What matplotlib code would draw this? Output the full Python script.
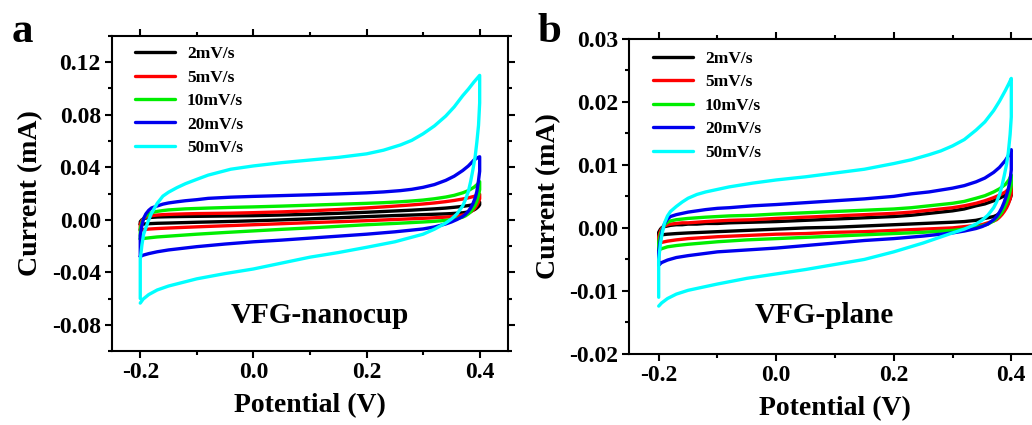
import matplotlib
matplotlib.use("Agg")
import matplotlib.pyplot as plt
from matplotlib.ticker import MultipleLocator

plt.rcParams['font.family'] = ['Liberation Serif', 'DejaVu Serif']
plt.rcParams['font.weight'] = 'bold'

# potential grid (V): forward sweep then reverse sweep
v_fwd = [-0.2, -0.2, -0.197, -0.194, -0.19, -0.185, -0.18, -0.17, -0.16, -0.15, -0.135, -0.12,
         -0.1, -0.08, -0.04, 0.0, 0.05, 0.1, 0.15, 0.2, 0.23, 0.26, 0.28, 0.3, 0.32, 0.34,
         0.355, 0.37, 0.38, 0.39, 0.396, 0.4]
v_rev = [0.4, 0.4, 0.398, 0.395, 0.392, 0.388, 0.384, 0.38, 0.375, 0.37, 0.36, 0.35, 0.34,
         0.32, 0.3, 0.25, 0.2, 0.15, 0.1, 0.05, 0.0, -0.05, -0.1, -0.15, -0.17, -0.185, -0.195, -0.2]

rates = ['2mV/s', '5mV/s', '10mV/s', '20mV/s', '50mV/s']
colors = ['#000000', '#ff0000', '#00ee00', '#0000ee', '#00ffff']

# panel a: VFG-nanocup, current (mA)
cup_2_fwd = [-0.0035, -0.0015, 0.0, 0.0008, 0.0013, 0.0016, 0.0018, 0.0021, 0.0022, 0.0023, 0.0024, 0.0025,
             0.0026, 0.0027, 0.0029, 0.0031, 0.0036, 0.0042, 0.0049, 0.0057, 0.0063, 0.0069, 0.0073, 0.0078,
             0.0083, 0.0089, 0.0095, 0.0102, 0.0108, 0.0116, 0.0125, 0.0135]
cup_2_rev = [0.0135, 0.0115, 0.0102, 0.009, 0.008, 0.0071, 0.0065, 0.006, 0.0056, 0.0053, 0.005, 0.0047,
             0.0045, 0.0042, 0.0039, 0.0032, 0.0024, 0.0015, 0.0007, -0.0001, -0.0008, -0.0014, -0.0019,
             -0.0025, -0.0027, -0.003, -0.0033, -0.0035]
cup_5_fwd = [-0.0078, -0.0035, -0.0005, 0.001, 0.002, 0.0027, 0.0031, 0.0036, 0.0039, 0.0041, 0.0043, 0.0045,
             0.0047, 0.0048, 0.005, 0.0054, 0.006, 0.0068, 0.0078, 0.009, 0.0098, 0.0107, 0.0113, 0.012,
             0.0128, 0.0138, 0.0147, 0.0158, 0.0167, 0.0178, 0.0187, 0.0195]
cup_5_rev = [0.0195, 0.016, 0.0135, 0.011, 0.009, 0.0072, 0.006, 0.005, 0.0042, 0.0036, 0.0029, 0.0024,
             0.002, 0.0015, 0.0011, 0.0002, -0.0007, -0.0015, -0.0022, -0.003, -0.0038, -0.0046, -0.0054,
             -0.0063, -0.0067, -0.0071, -0.0075, -0.0078]
cup_10_fwd = [-0.0147, -0.007, -0.002, 0.001, 0.003, 0.0045, 0.0054, 0.0064, 0.007, 0.0075, 0.0079, 0.0083,
              0.0086, 0.0089, 0.0094, 0.0098, 0.0104, 0.0111, 0.0118, 0.0125, 0.013, 0.0137, 0.0143, 0.015,
              0.016, 0.0173, 0.0186, 0.0205, 0.0222, 0.0248, 0.027, 0.029]
cup_10_rev = [0.029, 0.023, 0.0185, 0.014, 0.011, 0.0082, 0.006, 0.0045, 0.003, 0.002, 0.0008, 0.0001,
              -0.0005, -0.0012, -0.0017, -0.0028, -0.0038, -0.005, -0.0062, -0.0073, -0.0085, -0.0097,
              -0.011, -0.0125, -0.0131, -0.0138, -0.0143, -0.0147]
cup_20_fwd = [-0.028, -0.012, -0.004, 0.001, 0.0045, 0.0072, 0.009, 0.0105, 0.0119, 0.0128, 0.0137, 0.0145,
              0.0153, 0.0163, 0.0172, 0.0178, 0.0184, 0.019, 0.0197, 0.0205, 0.0212, 0.0222, 0.0232, 0.0247,
              0.0268, 0.030, 0.0332, 0.0375, 0.041, 0.0455, 0.0472, 0.048]
cup_20_rev = [0.048, 0.037, 0.030, 0.0215, 0.0165, 0.0122, 0.009, 0.0065, 0.0042, 0.0025, 0.0002, -0.0017,
              -0.0032, -0.0055, -0.007, -0.0092, -0.011, -0.0125, -0.014, -0.0155, -0.0168, -0.0185,
              -0.0205, -0.023, -0.0244, -0.0258, -0.027, -0.028]
cup_50_fwd = [-0.060, -0.030, -0.019, -0.011, -0.006, 0.0, 0.005, 0.0125, 0.018, 0.021, 0.0245, 0.0275,
              0.0308, 0.034, 0.0385, 0.041, 0.0435, 0.0455, 0.0475, 0.0502, 0.053, 0.057, 0.0605, 0.0655,
              0.0715, 0.079, 0.086, 0.0945, 0.0995, 0.105, 0.108, 0.110]
cup_50_rev = [0.110, 0.089, 0.072, 0.059, 0.048, 0.038, 0.029, 0.0215, 0.0155, 0.0105, 0.0045, 0.0005,
              -0.0025, -0.0072, -0.011, -0.0168, -0.021, -0.025, -0.0285, -0.033, -0.0375, -0.041, -0.045,
              -0.0505, -0.0535, -0.057, -0.0605, -0.0635]

# panel b: VFG-plane, current (mA)
pl_2_fwd = [-0.0012, -0.0007, -0.0002, 0.0001, 0.0002, 0.0003, 0.0004, 0.0005, 0.0005, 0.0006, 0.0006, 0.0007,
            0.0007, 0.0008, 0.0009, 0.001, 0.0012, 0.0014, 0.0016, 0.0018, 0.002, 0.0023, 0.0025, 0.0027,
            0.003, 0.0035, 0.0038, 0.0043, 0.0047, 0.0052, 0.0057, 0.0062]
pl_2_rev = [0.0062, 0.0052, 0.0046, 0.004, 0.0035, 0.003, 0.0026, 0.0023, 0.002, 0.0018, 0.0016, 0.0014,
            0.0012, 0.001, 0.0009, 0.0007, 0.0005, 0.0003, 0.0001, 0.0, -0.0002, -0.0004, -0.0006,
            -0.0008, -0.0009, -0.001, -0.0011, -0.0012]
pl_5_fwd = [-0.0024, -0.0014, -0.0005, 0.0, 0.0003, 0.0005, 0.0006, 0.0007, 0.0008, 0.0008, 0.0009, 0.001,
            0.0011, 0.0012, 0.0013, 0.0015, 0.0017, 0.0019, 0.0021, 0.0023, 0.0025, 0.0028, 0.003, 0.0032,
            0.0035, 0.0039, 0.0043, 0.0048, 0.0052, 0.0057, 0.0062, 0.0068]
pl_5_rev = [0.0068, 0.0054, 0.0046, 0.0038, 0.0032, 0.0026, 0.0021, 0.0017, 0.0013, 0.0011, 0.0008, 0.0005,
            0.0004, 0.0002, 0.0, -0.0002, -0.0004, -0.0006, -0.0007, -0.0009, -0.001, -0.0012, -0.0014,
            -0.0017, -0.0019, -0.0021, -0.0023, -0.0024]
pl_10_fwd = [-0.0035, -0.0022, -0.001, -0.0002, 0.0005, 0.0009, 0.0011, 0.0013, 0.0014, 0.0015, 0.0016, 0.0017,
             0.0018, 0.0019, 0.002, 0.0022, 0.0024, 0.0026, 0.0028, 0.003, 0.0032, 0.0035, 0.0037, 0.0039,
             0.0042, 0.0047, 0.0051, 0.0057, 0.0062, 0.0069, 0.0076, 0.0084]
pl_10_rev = [0.0084, 0.0068, 0.0058, 0.0048, 0.004, 0.0032, 0.0025, 0.002, 0.0015, 0.0011, 0.0006, 0.0003,
             0.0001, -0.0002, -0.0004, -0.0007, -0.0009, -0.0011, -0.0013, -0.0015, -0.0017, -0.0019,
             -0.0022, -0.0026, -0.0028, -0.003, -0.0033, -0.0035]
pl_20_fwd = [-0.0059, -0.0038, -0.0018, -0.0004, 0.0007, 0.0014, 0.0018, 0.0021, 0.0023, 0.0025, 0.0027, 0.0029,
             0.0031, 0.0032, 0.0035, 0.0037, 0.004, 0.0043, 0.0046, 0.005, 0.0054, 0.0057, 0.006, 0.0063,
             0.0067, 0.0073, 0.0079, 0.0088, 0.0096, 0.0107, 0.0116, 0.0124]
pl_20_rev = [0.0124, 0.0092, 0.0076, 0.0062, 0.0052, 0.0041, 0.0032, 0.0025, 0.0018, 0.0013, 0.0006, 0.0002,
             -0.0001, -0.0005, -0.0008, -0.0013, -0.0017, -0.002, -0.0024, -0.0028, -0.0032, -0.0035,
             -0.0038, -0.0044, -0.0047, -0.0051, -0.0055, -0.0059]
pl_50_fwd = [-0.011, -0.005, -0.0025, -0.0008, 0.0008, 0.0019, 0.0026, 0.0034, 0.0041, 0.0047, 0.0053, 0.0057,
             0.0061, 0.0065, 0.0071, 0.0076, 0.0081, 0.0087, 0.0093, 0.0102, 0.0108, 0.0116, 0.0122, 0.013,
             0.014, 0.0155, 0.0168, 0.0186, 0.0201, 0.0218, 0.0229, 0.0237]
pl_50_rev = [0.0237, 0.0176, 0.0148, 0.012, 0.0101, 0.0083, 0.0066, 0.0053, 0.0041, 0.0032, 0.002, 0.0012,
             0.0006, -0.0002, -0.0008, -0.0024, -0.0038, -0.005, -0.0058, -0.0066, -0.0073, -0.008,
             -0.0089, -0.0099, -0.0105, -0.0112, -0.0119, -0.0124]

cup_loops = [(cup_2_fwd, cup_2_rev), (cup_5_fwd, cup_5_rev), (cup_10_fwd, cup_10_rev),
             (cup_20_fwd, cup_20_rev), (cup_50_fwd, cup_50_rev)]
plane_loops = [(pl_2_fwd, pl_2_rev), (pl_5_fwd, pl_5_rev), (pl_10_fwd, pl_10_rev),
               (pl_20_fwd, pl_20_rev), (pl_50_fwd, pl_50_rev)]


def draw_panel(ax, loops, ylim, ymajor, yminor, name, name_pos, leg_anchor):
    for (fwd, rev), lab, col in zip(loops, rates, colors):
        ax.plot(v_fwd + v_rev, fwd + rev, color=col, lw=2.4, label=lab,
                solid_joinstyle='round', solid_capstyle='round')
    ax.set_xlim(-0.25, 0.45)
    ax.set_ylim(*ylim)
    ax.xaxis.set_minor_locator(MultipleLocator(0.1))
    ax.yaxis.set_major_locator(MultipleLocator(ymajor))
    ax.yaxis.set_minor_locator(MultipleLocator(yminor))
    ax.set_xticks([-0.2, 0.0, 0.2, 0.4])
    ax.set_xticklabels(['-0.2', '0.0', '0.2', '0.4'])
    ax.yaxis.set_major_formatter(plt.FormatStrFormatter('%.2f'))
    ax.tick_params(which='both', direction='out', width=1.5, labelsize=17, pad=3,
                   top=True, right=True)
    ax.tick_params(which='major', length=5)
    ax.tick_params(which='minor', length=3)
    for s in ax.spines.values():
        s.set_linewidth(1.5)
    for t in ax.get_xticklabels() + ax.get_yticklabels():
        t.set_fontweight('bold')
    ax.set_xlabel('Potential (V)', fontsize=20, fontweight='bold', labelpad=7)
    ax.set_ylabel('Current (mA)', fontsize=20, fontweight='bold', labelpad=6)
    ax.text(name_pos[0], name_pos[1], name, transform=ax.transAxes, fontsize=21,
            fontweight='bold', ha='center', va='baseline')
    ax.legend(loc='upper left', bbox_to_anchor=leg_anchor, frameon=False,
              handlelength=2.3, handletextpad=0.7, labelspacing=0.42, borderpad=0,
              borderaxespad=0, prop={'weight': 'bold', 'size': 12.5})


fig = plt.figure(figsize=(10.32, 4.25), dpi=100)
ax_a = fig.add_axes([0.1085, 0.1741, 0.3837, 0.7412])
ax_b = fig.add_axes([0.6098, 0.167, 0.3986, 0.742])

draw_panel(ax_a, cup_loops, (-0.10, 0.14), 0.04, 0.02, 'VFG-nanocup',
           (0.525, 0.089), (0.058, 0.968))
draw_panel(ax_b, plane_loops, (-0.02, 0.03), 0.01, 0.005, 'VFG-plane',
           (0.474, 0.097), (0.057, 0.962))

fig.text(0.011, 0.90, 'a', fontsize=31, fontweight='bold', va='baseline')
fig.text(0.521, 0.90, 'b', fontsize=31, fontweight='bold', va='baseline')

fig.savefig('out.png', dpi=100)
